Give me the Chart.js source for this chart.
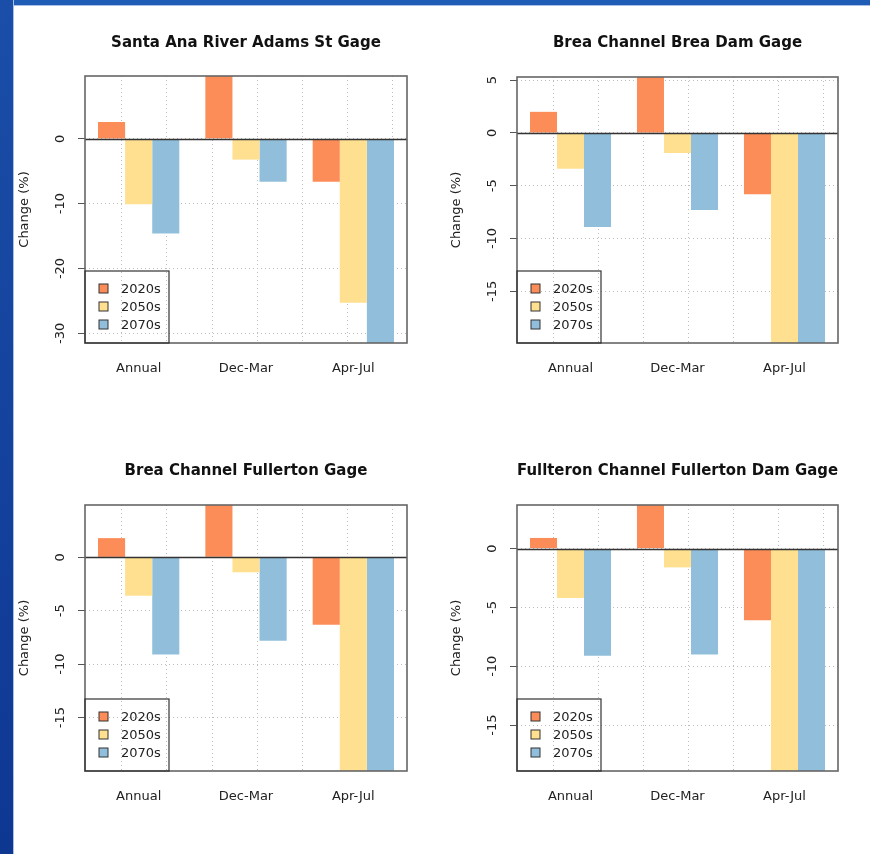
<!DOCTYPE html>
<html>
<head>
<meta charset="utf-8">
<title>Projected streamflow change by gage</title>
<script src="https://cdn.jsdelivr.net/npm/chart.js@4.4.1/dist/chart.umd.min.js"></script>
<style>
  html, body { margin: 0; padding: 0; background: #fff; }
  body { width: 870px; height: 854px; position: relative; overflow: hidden; }
  .edge-top { position: absolute; left: 0; top: 0; width: 870px; height: 5px; background: #1f5cb5; border-bottom: 1px solid #a9bfe6; }
  .edge-left { position: absolute; left: 0; top: 0; width: 13px; height: 854px; background: linear-gradient(#1a4ea8, #0e3792); border-right: 1px solid #a9bfe6; }
  canvas { position: absolute; }
</style>
</head>
<body>
<div class="edge-top"></div>
<div class="edge-left"></div>
<canvas id="adams" width="435" height="424" style="left:0;top:0"></canvas>
<canvas id="breaDam" width="435" height="424" style="left:435px;top:0"></canvas>
<canvas id="breaFullerton" width="435" height="424" style="left:0;top:430px"></canvas>
<canvas id="fullertonDam" width="435" height="424" style="left:435px;top:430px"></canvas>
<script>
const categories = ['Annual', 'Dec-Mar', 'Apr-Jul'];
const periods = ['2020s', '2050s', '2070s'];
const periodColors = ['#fc8d59', '#fee090', '#91bfdb'];

// bar slots in R barplot units, used for the dotted vertical grid
const slotTicks = [2, 4, 6, 8, 10, 12];
const slotRange = [0.56, 12.44];

// Santa Ana River Adams St Gage
const adams2020s = [2.6, 11.5, -6.6];
const adams2050s = [-10.1, -3.2, -25.3];
const adams2070s = [-14.6, -6.6, -34.0];
const adamsTicks = [0, -10, -20, -30];
const adamsRange = [-31.5, 9.7];

// Brea Channel Brea Dam Gage
const breaDam2020s = [2.0, 6.5, -5.8];
const breaDam2050s = [-3.4, -1.9, -21.0];
const breaDam2070s = [-8.9, -7.3, -22.0];
const breaDamTicks = [5, 0, -5, -10, -15];
const breaDamRange = [-19.9, 5.3];

// Brea Channel Fullerton Gage
const breaFull2020s = [1.8, 6.0, -6.3];
const breaFull2050s = [-3.6, -1.4, -21.0];
const breaFull2070s = [-9.1, -7.8, -22.0];
const breaFullTicks = [0, -5, -10, -15];
const breaFullRange = [-20.0, 4.9];

// Fullteron Channel Fullerton Dam Gage
const fullDam2020s = [0.9, 4.5, -6.1];
const fullDam2050s = [-4.2, -1.6, -20.0];
const fullDam2070s = [-9.1, -9.0, -21.0];
const fullDamTicks = [0, -5, -10, -15];
const fullDamRange = [-18.9, 3.7];

Chart.defaults.font.family = '"DejaVu Sans", sans-serif';
Chart.defaults.font.size = 13;
Chart.defaults.color = '#222';

const W = 435, H = 424;

// draws abline(h = 0), box() and the bottom-left legend like the R original
const rFrame = {
  id: 'rFrame',
  afterDatasetsDraw(chart) {
    const { ctx, chartArea: a, scales: { y } } = chart;
    ctx.save();
    const y0 = Math.round(y.getPixelForValue(0)) + 0.5;
    ctx.strokeStyle = '#333';
    ctx.lineWidth = 1.3;
    ctx.beginPath();
    ctx.moveTo(a.left, y0);
    ctx.lineTo(a.right, y0);
    ctx.stroke();

    ctx.strokeStyle = '#666';
    ctx.lineWidth = 1.6;
    ctx.strokeRect(a.left, a.top, a.right - a.left, a.bottom - a.top);

    // legend
    const lw = 84, lh = 72;
    ctx.strokeStyle = '#333';
    ctx.lineWidth = 1.2;
    ctx.strokeRect(a.left, a.bottom - lh, lw, lh);
    ctx.font = '13px "DejaVu Sans", sans-serif';
    ctx.textBaseline = 'middle';
    ctx.textAlign = 'left';
    const n = chart.data.datasets.length;
    chart.data.datasets.forEach((ds, i) => {
      const cy = a.bottom - 18.5 - 18 * (n - 1 - i);
      ctx.fillStyle = ds.backgroundColor;
      ctx.fillRect(a.left + 14, cy - 4.5, 9, 9);
      ctx.strokeStyle = '#333';
      ctx.lineWidth = 1;
      ctx.strokeRect(a.left + 14, cy - 4.5, 9, 9);
      ctx.fillStyle = '#222';
      ctx.fillText(ds.label, a.left + 36, cy + 1);
    });
    ctx.restore();
  }
};

function makePanel(id, title, series, ticks, range, area) {
  const titleTop = area.titleY - 9;
  new Chart(document.getElementById(id), {
    type: 'bar',
    data: {
      labels: categories,
      datasets: series.map((values, i) => ({
        label: periods[i],
        data: values,
        backgroundColor: periodColors[i],
        borderWidth: 0,
        categoryPercentage: 3 / 3.96,
        barPercentage: 1,
        clip: 0,
        xAxisID: 'x',
        yAxisID: 'y'
      }))
    },
    options: {
      responsive: false,
      animation: false,
      layout: {
        padding: { left: 0, top: 0, right: W - area.right, bottom: H - area.bottom - 40 }
      },
      plugins: {
        legend: { display: false },
        tooltip: { enabled: false },
        title: {
          display: true,
          text: title,
          fullSize: false,
          color: '#111',
          font: { size: 15, weight: 'bold' },
          padding: { top: titleTop, bottom: area.top - titleTop - 18 }
        }
      },
      scales: {
        x: {
          type: 'category',
          position: 'bottom',
          grid: { display: false, drawTicks: false },
          border: { display: false },
          ticks: { padding: 18 },
          afterFit: s => { s.height = 40; }
        },
        slots: {
          type: 'linear',
          position: 'bottom',
          min: slotRange[0],
          max: slotRange[1],
          afterBuildTicks: s => { s.ticks = slotTicks.map(v => ({ value: v })); },
          ticks: { display: false },
          grid: { color: '#bdbdbd', drawTicks: false },
          border: { display: false, dash: [1, 3] },
          afterFit: s => { s.height = 0; }
        },
        y: {
          type: 'linear',
          position: 'left',
          min: range[0],
          max: range[1],
          afterBuildTicks: s => { s.ticks = ticks.map(v => ({ value: v })); },
          ticks: { minRotation: 90, maxRotation: 90, crossAlign: 'center', padding: 7, autoSkip: false },
          grid: {
            color: '#bdbdbd', lineWidth: 1,
            tickLength: 7, tickColor: '#555', tickBorderDash: [], tickWidth: 1
          },
          border: { display: false, dash: [1, 3] },
          title: { display: true, text: 'Change (%)', padding: { top: area.left - 60 - 7.8, bottom: 0 } },
          afterFit: s => { s.width = area.left; }
        }
      }
    },
    plugins: [rFrame]
  });
}

makePanel('adams', 'Santa Ana River Adams St Gage',
  [adams2020s, adams2050s, adams2070s], adamsTicks, adamsRange,
  { left: 85, right: 407, top: 76, bottom: 343, titleY: 43 });
makePanel('breaDam', 'Brea Channel Brea Dam Gage',
  [breaDam2020s, breaDam2050s, breaDam2070s], breaDamTicks, breaDamRange,
  { left: 82, right: 403, top: 77, bottom: 343, titleY: 43 });
makePanel('breaFullerton', 'Brea Channel Fullerton Gage',
  [breaFull2020s, breaFull2050s, breaFull2070s], breaFullTicks, breaFullRange,
  { left: 85, right: 407, top: 75, bottom: 341, titleY: 41 });
makePanel('fullertonDam', 'Fullteron Channel Fullerton Dam Gage',
  [fullDam2020s, fullDam2050s, fullDam2070s], fullDamTicks, fullDamRange,
  { left: 82, right: 403, top: 75, bottom: 341, titleY: 41 });
</script>
</body>
</html>
